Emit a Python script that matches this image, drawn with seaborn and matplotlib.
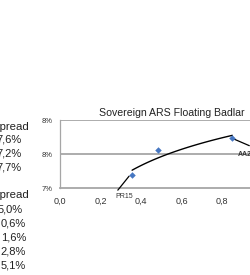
import numpy as np
import pandas as pd
import matplotlib
matplotlib.use("Agg")
import matplotlib.pyplot as plt
import seaborn as sns
from matplotlib.ticker import FuncFormatter, FixedLocator

# bonds on the curve: duration (x) and yield in % (y)
bond_names = ["PR15", "", "AA2"]
duration = [0.356, 0.486, 0.851]
yield_pct = [7.19, 7.56, 7.735]

# side table (clipped in the original slide)
spread_header = "Spread"
spread_top = ["7,6%", "7,2%", "7,7%"]
spread_bottom = ["5,0%", "0,6%", "1,6%", "2,8%", "5,1%"]

sns.set_theme(style="white")
plt.rcParams["font.family"] = ["Liberation Sans", "DejaVu Sans"]

fig = plt.figure(figsize=(2.5, 2.75), dpi=100)
ax = fig.add_axes([0.24, 0.316, 0.81, 0.2473])

df = pd.DataFrame({"dur": duration, "yld": yield_pct, "name": bond_names})

# log trend line fitted to the points
b, a = np.polyfit(np.log(df["dur"]), df["yld"], 1)
xs = np.linspace(df["dur"].min(), df["dur"].max(), 60)
trend = pd.DataFrame({"dur": xs, "yld": a + b * np.log(xs)})
sns.lineplot(data=trend, x="dur", y="yld", ax=ax, color="black", lw=1.0)

sns.scatterplot(data=df, x="dur", y="yld", ax=ax, marker="D", s=11,
                color="#4677c2", edgecolor="#4677c2", linewidth=0, zorder=5)

# data labels with leader lines
ax.annotate(df["name"][0], xy=(df["dur"][0] - 0.015, df["yld"][0] - 0.015),
            xytext=(0.316, 6.87), fontsize=5, color="#333333", ha="center", va="center",
            arrowprops=dict(arrowstyle="-", color="black", lw=0.9, shrinkA=0, shrinkB=0,
                            relpos=(0.0, 1.0)),
            annotation_clip=False)
ax.annotate(df["name"][2], xy=(df["dur"][2] + 0.005, df["yld"][2] - 0.01),
            xytext=(0.876, 7.49), fontsize=5, color="#333333", ha="left", va="center",
            fontweight="bold",
            arrowprops=dict(arrowstyle="-", color="black", lw=0.9, shrinkA=0, shrinkB=0,
                            relpos=(0.85, 1.8)),
            annotation_clip=False)

ax.set_xlim(0, 1.0)
ax.set_ylim(7.0, 8.0)
ax.xaxis.set_major_locator(FixedLocator([0, 0.2, 0.4, 0.6, 0.8]))
ax.yaxis.set_major_locator(FixedLocator([7.0, 7.5, 8.0]))
ax.xaxis.set_major_formatter(FuncFormatter(lambda v, p: f"{v:.1f}".replace(".", ",")))
ax.yaxis.set_major_formatter(FuncFormatter(lambda v, p: f"{v:.0f}%"))
ax.tick_params(axis="both", colors="#333333", width=0.8, direction="out")
ax.tick_params(axis="x", length=2, pad=4, labelsize=6.5, color="#a6a6a6")
ax.tick_params(axis="y", length=3, pad=2, labelsize=5.5, color="#a6a6a6")
ax.set_xlabel("")
ax.set_ylabel("")
ax.grid(False)
for v in [7.5, 8.0]:
    ax.axhline(v, color="#a6a6a6", lw=1.3, zorder=0)
for s in ["top", "right"]:
    ax.spines[s].set_visible(False)
ax.spines["bottom"].set_color("#a6a6a6")
ax.spines["bottom"].set_linewidth(1.3)
ax.spines["left"].set_color("#a6a6a6")
ax.spines["left"].set_linewidth(0.9)

fig.text(172 / 250, 1 - 113 / 275, "Sovereign ARS Floating Badlar", ha="center",
         va="center", fontsize=7.6, color="#222222")

# side table
fig.text(29 / 250, 1 - 127 / 275, spread_header, ha="right", va="center", fontsize=8.2,
         color="#222222")
for i, t in enumerate(spread_top):
    fig.text(22 / 250, 1 - (140 + 13.7 * i) / 275, t, ha="right", va="center",
             fontsize=8, color="#222222")
fig.text(29 / 250, 1 - 195 / 275, spread_header, ha="right", va="center", fontsize=8.2,
         color="#222222")
for i, t in enumerate(spread_bottom):
    xr = 23 if i == 0 else 26
    fig.text(xr / 250, 1 - (210 + 13.8 * i) / 275, t, ha="right", va="center",
             fontsize=8, color="#222222")

fig.savefig("out.png", dpi=100, facecolor="white")
